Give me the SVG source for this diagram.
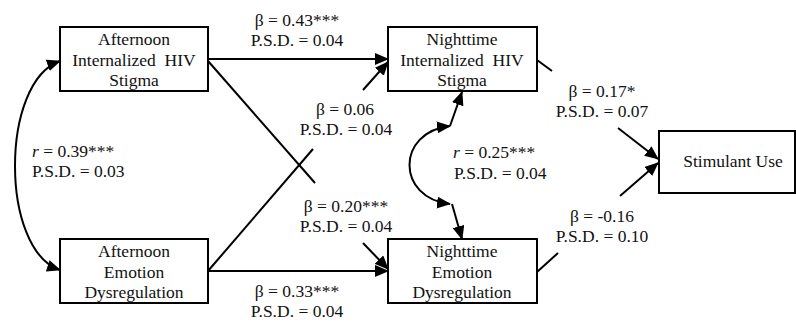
<svg xmlns="http://www.w3.org/2000/svg" width="796" height="322" viewBox="0 0 796 322">
<defs>
<marker id="ah" markerUnits="userSpaceOnUse" markerWidth="14" markerHeight="12" refX="13" refY="6" orient="auto-start-reverse" viewBox="0 0 14 12">
<path d="M0,0 L14,6 L0,12 Z" fill="#000"/>
</marker>
</defs>
<rect width="796" height="322" fill="#fff"/>
<g id="connectors" fill="none" stroke="#000" stroke-width="2">
<path d="M208,59 L388,59" marker-end="url(#ah)"/>
<path d="M208,61 L315,183"/>
<path d="M363,243 L388,269" marker-end="url(#ah)"/>
<path d="M208,271 L388,271" marker-end="url(#ah)"/>
<path d="M208,271 L313,149"/>
<path d="M363,90 L388,62" marker-end="url(#ah)"/>
<path d="M537,60 L552,71"/>
<path d="M618,128 L658,159" marker-end="url(#ah)"/>
<path d="M537,272 L558,253"/>
<path d="M620,196 L658,163" marker-end="url(#ah)"/>
<path d="M60,61 C0,82 0,250 60,270" marker-start="url(#ah)" marker-end="url(#ah)"/>
<path d="M450,126 C396,132 396,198 450,204" marker-start="url(#ah)" marker-end="url(#ah)"/>
<path d="M450,126 L462,92" marker-end="url(#ah)"/>
<path d="M452,204 L462,239" marker-end="url(#ah)"/>
</g>
<g id="labels" fill="#111" text-anchor="middle">
<text style="font-family:'Liberation Serif',serif;font-size:17.5px" x="297" y="26">β = 0.43***</text>
<text style="font-family:'Liberation Serif',serif;font-size:17.5px" x="297" y="46">P.S.D. = 0.04</text>
<text style="font-family:'Liberation Serif',serif;font-size:17.5px" x="345" y="115">β = 0.06</text>
<text style="font-family:'Liberation Serif',serif;font-size:17.5px" x="346" y="135">P.S.D. = 0.04</text>
<text style="font-family:'Liberation Serif',serif;font-size:17.5px" text-anchor="start" x="32" y="157"><tspan font-style="italic">r</tspan> = 0.39***</text>
<text style="font-family:'Liberation Serif',serif;font-size:17.5px" text-anchor="start" x="32" y="177">P.S.D. = 0.03</text>
<text style="font-family:'Liberation Serif',serif;font-size:17.5px" x="346" y="212">β = 0.20***</text>
<text style="font-family:'Liberation Serif',serif;font-size:17.5px" x="346" y="232">P.S.D. = 0.04</text>
<text style="font-family:'Liberation Serif',serif;font-size:17.5px" x="297" y="297">β = 0.33***</text>
<text style="font-family:'Liberation Serif',serif;font-size:17.5px" x="297" y="317">P.S.D. = 0.04</text>
<text style="font-family:'Liberation Serif',serif;font-size:17.5px" text-anchor="start" x="453" y="158"><tspan font-style="italic">r</tspan> = 0.25***</text>
<text style="font-family:'Liberation Serif',serif;font-size:17.5px" text-anchor="start" x="454" y="179">P.S.D. = 0.04</text>
<text style="font-family:'Liberation Serif',serif;font-size:17.5px" x="602" y="97">β = 0.17*</text>
<text style="font-family:'Liberation Serif',serif;font-size:17.5px" x="602" y="117">P.S.D. = 0.07</text>
<text style="font-family:'Liberation Serif',serif;font-size:17.5px" x="602" y="222">β = -0.16</text>
<text style="font-family:'Liberation Serif',serif;font-size:17.5px" x="602" y="242">P.S.D. = 0.10</text>
</g>
<g id="n_aihs" fill="#111" text-anchor="middle">
<rect x="60" y="27" width="148" height="64" fill="#fff" stroke="#000" stroke-width="2"/>
<text style="font-family:'Liberation Serif',serif;font-size:17.5px" x="134" y="45">Afternoon</text>
<text style="font-family:'Liberation Serif',serif;font-size:17.5px;white-space:pre" x="134" y="66">Internalized  HIV</text>
<text style="font-family:'Liberation Serif',serif;font-size:17.5px" x="134" y="86">Stigma</text>
</g>
<g id="n_aed" fill="#111" text-anchor="middle">
<rect x="60" y="239" width="148" height="64" fill="#fff" stroke="#000" stroke-width="2"/>
<text style="font-family:'Liberation Serif',serif;font-size:17.5px" x="134" y="257">Afternoon</text>
<text style="font-family:'Liberation Serif',serif;font-size:17.5px" x="134" y="278">Emotion</text>
<text style="font-family:'Liberation Serif',serif;font-size:17.5px" x="134" y="298">Dysregulation</text>
</g>
<g id="n_nihs" fill="#111" text-anchor="middle">
<rect x="388" y="27" width="149" height="64" fill="#fff" stroke="#000" stroke-width="2"/>
<text style="font-family:'Liberation Serif',serif;font-size:17.5px" x="462" y="45">Nighttime</text>
<text style="font-family:'Liberation Serif',serif;font-size:17.5px;white-space:pre" x="462" y="66">Internalized  HIV</text>
<text style="font-family:'Liberation Serif',serif;font-size:17.5px" x="462" y="86">Stigma</text>
</g>
<g id="n_ned" fill="#111" text-anchor="middle">
<rect x="388" y="239" width="149" height="64" fill="#fff" stroke="#000" stroke-width="2"/>
<text style="font-family:'Liberation Serif',serif;font-size:17.5px" x="462" y="257">Nighttime</text>
<text style="font-family:'Liberation Serif',serif;font-size:17.5px" x="462" y="278">Emotion</text>
<text style="font-family:'Liberation Serif',serif;font-size:17.5px" x="462" y="298">Dysregulation</text>
</g>
<g id="n_stim" fill="#111" text-anchor="middle">
<rect x="659" y="131" width="136" height="62" fill="#fff" stroke="#000" stroke-width="2"/>
<text style="font-family:'Liberation Serif',serif;font-size:17.5px" x="733" y="167">Stimulant Use</text>
</g>
</svg>
